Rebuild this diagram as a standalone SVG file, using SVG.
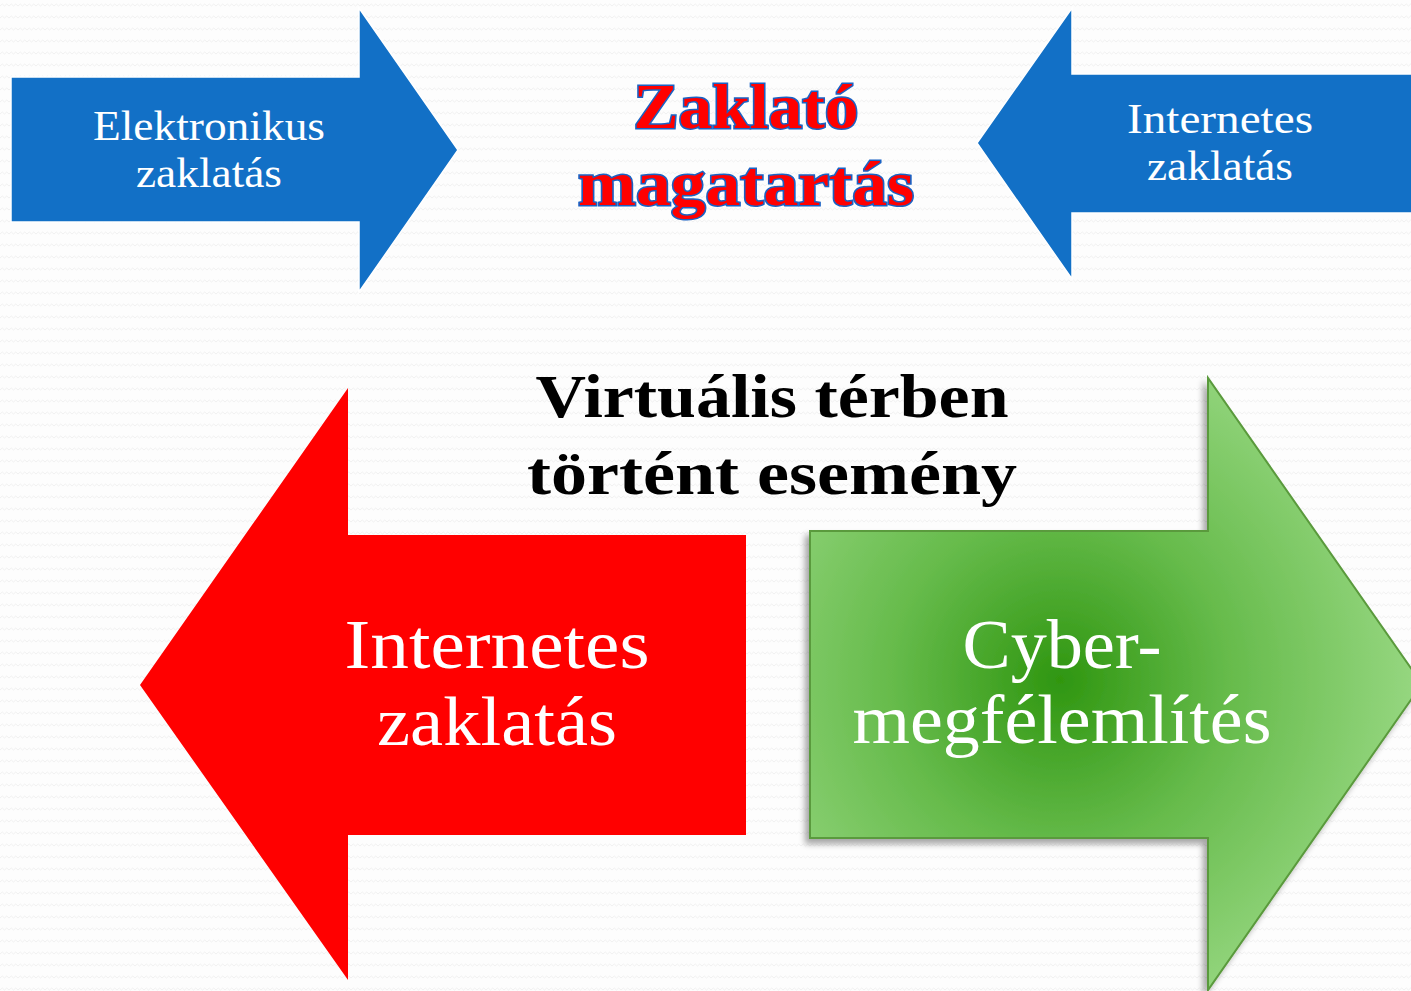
<svg xmlns="http://www.w3.org/2000/svg" width="1411" height="991" viewBox="0 0 1411 991">
<defs>
<pattern id="bg" width="9" height="12" patternUnits="userSpaceOnUse">
<rect width="9" height="12" fill="#fdfdfd"/>
<path d="M0 6 L2.25 4 L4.5 6 L6.75 4 L9 6" fill="none" stroke="#f1f1f1" stroke-width="1"/>
</pattern>
<radialGradient id="gg" cx="1060" cy="680" r="420" gradientUnits="userSpaceOnUse">
<stop offset="0" stop-color="#2f9610"/>
<stop offset="0.4" stop-color="#66bb4b"/>
<stop offset="1" stop-color="#a6e092"/>
</radialGradient>
<filter id="sh" x="-10%" y="-10%" width="120%" height="120%">
<feGaussianBlur in="SourceAlpha" stdDeviation="3"/>
<feOffset dx="-4" dy="5"/>
<feComponentTransfer><feFuncA type="linear" slope="0.35"/></feComponentTransfer>
<feMerge><feMergeNode/><feMergeNode in="SourceGraphic"/></feMerge>
</filter>
</defs>
<style>
.blue{fill:#1270c6;stroke:#ffffff;stroke-width:1.5}
.wt{fill:#ffffff;font-family:"Liberation Serif","DejaVu Serif",serif;text-anchor:middle}
.title{font-family:"Liberation Serif","DejaVu Serif",serif;font-weight:bold;text-anchor:middle}
</style>
<rect width="1411" height="991" fill="url(#bg)"/>

<g id="arrow-elektronikus">
<polygon class="blue" points="11,77 359,77 359,8 458,150 359,292 359,222 11,222"/>
<text class="wt" font-size="42" x="209" y="140" textLength="232" lengthAdjust="spacingAndGlyphs">Elektronikus</text>
<text class="wt" font-size="42" x="209" y="187" textLength="146" lengthAdjust="spacingAndGlyphs">zaklatás</text>
</g>

<g id="arrow-internetes-top">
<polygon class="blue" points="1413,74 1072,74 1072,8 977,143 1072,279 1072,213 1413,213"/>
<text class="wt" font-size="42" x="1220" y="133" textLength="186" lengthAdjust="spacingAndGlyphs">Internetes</text>
<text class="wt" font-size="42" x="1220" y="180" textLength="146" lengthAdjust="spacingAndGlyphs">zaklatás</text>
</g>

<g id="title-zaklato">
<text class="title" font-size="64" x="746" y="128" fill="#ff0000" stroke="#1a62c4" stroke-width="3" paint-order="stroke" textLength="225" lengthAdjust="spacingAndGlyphs">Zaklató</text>
<text class="title" font-size="64" x="746" y="205" fill="#ff0000" stroke="#1a62c4" stroke-width="3" paint-order="stroke" textLength="336" lengthAdjust="spacingAndGlyphs">magatartás</text>
</g>

<g id="title-virtualis">
<text class="title" font-size="62" x="772" y="417" fill="#000000" textLength="473" lengthAdjust="spacingAndGlyphs">Virtuális térben</text>
<text class="title" font-size="62" x="772" y="494" fill="#000000" textLength="490" lengthAdjust="spacingAndGlyphs">történt esemény</text>
</g>

<g id="arrow-internetes-red">
<polygon fill="#ff0000" points="746,535 348,535 348,388 140,685 348,980 348,835 746,835"/>
<text class="wt" font-size="70" x="497" y="668" textLength="305" lengthAdjust="spacingAndGlyphs">Internetes</text>
<text class="wt" font-size="70" x="497" y="745" textLength="240" lengthAdjust="spacingAndGlyphs">zaklatás</text>
</g>

<g id="arrow-cyber">
<polygon fill="url(#gg)" stroke="#5a9a3c" stroke-width="2" filter="url(#sh)" points="810,531 1208,531 1208,378 1422,684 1208,990 1208,838 810,838"/>
<text class="wt" font-size="70" x="1062" y="668" textLength="199" lengthAdjust="spacingAndGlyphs">Cyber-</text>
<text class="wt" font-size="70" x="1062" y="743" textLength="419" lengthAdjust="spacingAndGlyphs">megfélemlítés</text>
</g>

<g id="connectors"></g>
</svg>
